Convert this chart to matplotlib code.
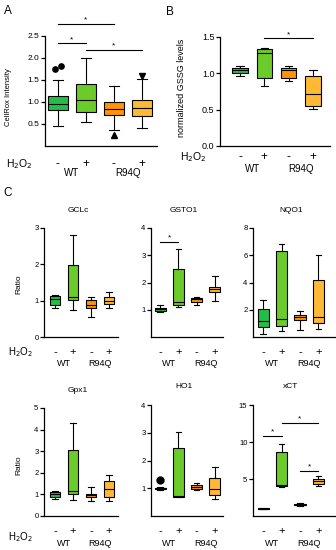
import matplotlib
matplotlib.use("Agg")
import matplotlib.pyplot as plt

plt.rcParams['font.family'] = ['Liberation Sans', 'DejaVu Sans']

W, H = 336, 550

groups = ['WT', 'R94Q']
h2o2 = ['-', '+', '-', '+']
box_colors = ['#22bf48', '#6acb2a', '#ff9408', '#ffb935']

# five-number summaries per box: [low whisker, Q1, median, Q3, high whisker]
cellrox = [[0.46, 0.81, 0.95, 1.13, 1.51],
           [0.54, 0.77, 1.04, 1.40, 2.01],
           [0.36, 0.70, 0.85, 1.01, 1.36],
           [0.42, 0.69, 0.86, 1.05, 1.52]]
cellrox_fliers = [[1.76, 1.81], [], [0.26], [1.60]]
cellrox_sig = [(0, 2, 2.78), (0, 1, 2.33), (1, 3, 2.19)]

gssg = [[0.97, 1.01, 1.05, 1.08, 1.10],
        [0.82, 0.94, 1.28, 1.33, 1.35],
        [0.90, 0.94, 1.045, 1.08, 1.105],
        [0.51, 0.55, 0.72, 0.96, 1.045]]
gssg_sig = [(1, 3, 1.48)]

gclc = [[0.80, 0.88, 1.05, 1.12, 1.15],
        [0.73, 1.02, 1.10, 1.97, 2.82],
        [0.55, 0.79, 0.87, 1.03, 1.10],
        [0.80, 0.92, 1.00, 1.10, 1.24]]

gsto1 = [[0.91, 0.97, 1.02, 1.07, 1.16],
         [1.11, 1.19, 1.28, 2.49, 3.22],
         [1.16, 1.29, 1.38, 1.42, 1.46],
         [1.32, 1.64, 1.75, 1.85, 2.24]]
gsto1_sig = [(0, 1, 3.48)]

nqo1 = [[0.25, 0.71, 1.18, 2.04, 2.71],
        [0.44, 0.79, 1.35, 6.28, 6.82],
        [0.54, 1.23, 1.48, 1.60, 1.92],
        [0.62, 1.06, 1.48, 4.18, 6.03]]

gpx1 = [[0.79, 0.88, 1.00, 1.11, 1.16],
        [0.73, 1.03, 1.16, 3.04, 4.32],
        [0.68, 0.88, 0.96, 1.03, 1.34],
        [0.69, 0.90, 1.25, 1.60, 1.88]]

ho1 = [[0.92, 0.97, 1.00, 1.02, 1.03],
       [0.69, 0.70, 0.72, 2.45, 3.02],
       [0.93, 0.96, 1.05, 1.11, 1.19],
       [0.63, 0.75, 0.99, 1.37, 1.75]]
ho1_fliers = [[1.29], [], [], []]

xct = [[0.90, 0.95, 1.00, 1.03, 1.08],
       [3.90, 4.05, 4.20, 8.70, 9.70],
       [1.31, 1.44, 1.53, 1.67, 1.76],
       [4.05, 4.37, 4.68, 4.95, 5.36]]
xct_sig = [(0, 1, 10.8), (1, 3, 12.6), (2, 3, 6.1)]

fig = plt.figure(figsize=(W / 100, H / 100), dpi=100)


def px_axes(l, t, r, b):
    return fig.add_axes([l / W, 1 - b / H, (r - l) / W, (b - t) / H])


def ftext(x, y, s, **kw):
    fig.text(x / W, 1 - y / H, s, **kw)


def draw(ax, summ, xlim, ylim, yticks, ylabels, width, tick_fs,
         fliers=None, markers=None, msize=4, sig=None, star_fs=6,
         lab_off=18, grp_off=27, lab_fs=7, grp_fs=6.5):
    stats = []
    for s in summ:
        stats.append(dict(whislo=s[0], q1=s[1], med=s[2], q3=s[3], whishi=s[4], fliers=[]))
    pos = [1, 2, 3, 4]
    bp = ax.bxp(stats, positions=pos, widths=width, capwidths=width * 0.5,
                patch_artist=True, showfliers=False,
                boxprops=dict(linewidth=0.8, edgecolor='black'),
                medianprops=dict(color='black', linewidth=0.8),
                whiskerprops=dict(color='black', linewidth=0.8),
                capprops=dict(color='black', linewidth=0.8))
    for patch, c in zip(bp['boxes'], box_colors):
        patch.set_facecolor(c)
    if fliers:
        for i, vals in enumerate(fliers):
            n = len(vals)
            for k, v in enumerate(vals):
                dx = (k - (n - 1) / 2) * 0.2 if n > 1 else 0
                ax.plot(pos[i] + dx, v, marker=markers[i], color='black',
                        markersize=msize, linestyle='none', clip_on=False)
    if sig:
        for i, j, y in sig:
            ax.plot([pos[i], pos[j]], [y, y], color='black', lw=0.8, clip_on=False)
            ax.annotate('*', xy=((pos[i] + pos[j]) / 2, y), xytext=(0, 0.5),
                        textcoords='offset pixels', ha='center', va='bottom',
                        fontsize=star_fs, annotation_clip=False)
    ax.set_xlim(*xlim)
    ax.set_ylim(*ylim)
    ax.set_yticks(yticks)
    ax.set_yticklabels(ylabels, fontsize=tick_fs)
    ax.set_xticks([])
    for sp in ['top', 'right']:
        ax.spines[sp].set_visible(False)
    for sp in ['left', 'bottom']:
        ax.spines[sp].set_linewidth(0.9)
    ax.tick_params(axis='y', length=3, width=0.9, pad=1)
    ax.patch.set_alpha(0)
    # +/- row and genotype labels under the axis
    for p, s in zip(pos, h2o2):
        ax.annotate(s, xy=(p, 0), xycoords=('data', 'axes fraction'),
                    xytext=(0, -lab_off), textcoords='offset pixels',
                    ha='center', va='center', fontsize=lab_fs, annotation_clip=False)
    for k, g in enumerate(groups):
        ax.annotate(g, xy=(pos[2 * k] + 0.5, 0), xycoords=('data', 'axes fraction'),
                    xytext=(0, -grp_off), textcoords='offset pixels',
                    ha='center', va='center', fontsize=grp_fs, annotation_clip=False)


# Panel A
axA = px_axes(45, 36, 157, 146)
draw(axA, cellrox, (0.54, 4.54), (0, 2.5), [0.5, 1.0, 1.5, 2.0, 2.5],
     ['0.5', '1.0', '1.5', '2.0', '2.5'], 0.7, 6,
     fliers=cellrox_fliers, markers=['o', None, '^', 'v'], msize=3.8,
     sig=cellrox_sig, star_fs=6, lab_off=18, grp_off=27, lab_fs=8.5, grp_fs=7)
ftext(9, 97, 'CellRox Intensity', rotation=90, ha='center', va='center', fontsize=5.5)
ftext(33, 164, 'H$_2$O$_2$', ha='right', va='center', fontsize=7.5)

# Panel B
axB = px_axes(220, 37, 330, 146)
draw(axB, gssg, (0.18, 4.7), (0, 1.5), [0.0, 0.5, 1.0, 1.5],
     ['0.0', '0.5', '1.0', '1.5'], 0.62, 6.5,
     sig=gssg_sig, star_fs=6, lab_off=11, grp_off=23, lab_fs=8.5, grp_fs=7)
ftext(181, 88, 'normalized GSSG levels', rotation=90, ha='center', va='center', fontsize=6.5)
ftext(207, 157, 'H$_2$O$_2$', ha='right', va='center', fontsize=7.5)

# Panel C
c_panels = [
    ('GCLc', gclc, (44, 228, 118, 337), (0.39, 4.5), (0, 3), [0, 1, 2, 3], None, None, None),
    ('GSTO1', gsto1, (151, 228, 223, 337), (0.5, 4.44), (0, 4), [1, 2, 3, 4], None, None, gsto1_sig),
    ('NQO1', nqo1, (253, 228, 335, 337), (0.45, 4.9), (0, 8), [2, 4, 6, 8], None, None, None),
    ('Gpx1', gpx1, (44, 408, 118, 516), (0.39, 4.5), (0, 5), [0, 1, 2, 3, 4, 5], None, None, None),
    ('HO1', ho1, (151, 405, 223, 516), (0.5, 4.44), (0, 4), [1, 2, 3, 4], ho1_fliers, ['o', None, None, None], None),
    ('xCT', xct, (253, 405, 335, 516), (0.45, 4.9), (0, 15), [5, 10, 15], None, None, xct_sig),
]
for name, summ, box, xl, yl, yt, fl, mk, sg in c_panels:
    ax = px_axes(*box)
    draw(ax, summ, xl, yl, yt, [str(t) for t in yt], 0.6, 5.5,
         fliers=fl, markers=mk, msize=5, sig=sg, star_fs=6,
         lab_off=15, grp_off=27, lab_fs=8, grp_fs=6.5)
    cx = (box[0] + box[2]) / 2 - 3
    ftext(cx, box[1] - 18, name, ha='center', va='center', fontsize=6)

ftext(19, 284, 'Ratio', rotation=90, ha='center', va='center', fontsize=6)
ftext(19, 465, 'Ratio', rotation=90, ha='center', va='center', fontsize=6)
ftext(33, 352, 'H$_2$O$_2$', ha='right', va='center', fontsize=7)
ftext(33, 537, 'H$_2$O$_2$', ha='right', va='center', fontsize=7)

ftext(8, 11, 'A', ha='center', va='center', fontsize=8.5)
ftext(170, 12, 'B', ha='center', va='center', fontsize=8.5)
ftext(8, 193, 'C', ha='center', va='center', fontsize=8.5)

fig.savefig('out.png', dpi=100)
